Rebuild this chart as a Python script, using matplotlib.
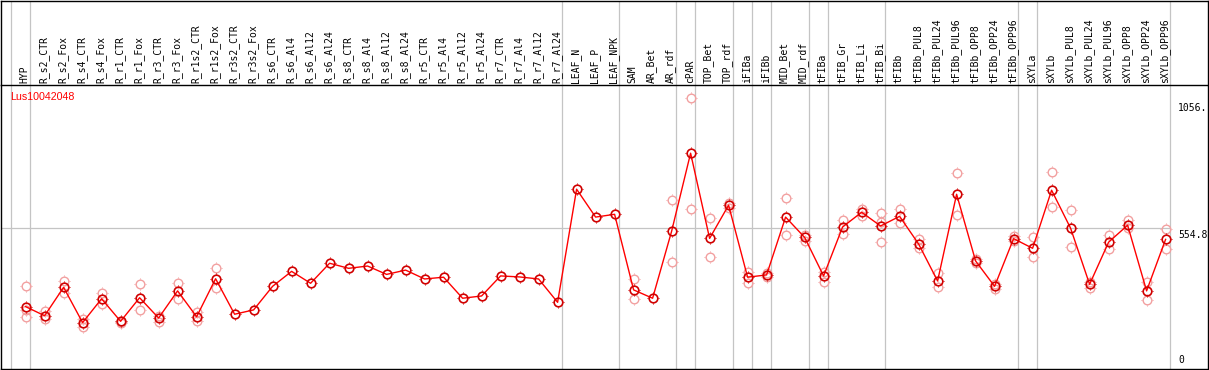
import matplotlib
matplotlib.use("Agg")
import matplotlib.pyplot as plt
from matplotlib.path import Path

LABELS = [
    "HYP", "R_s2_CTR", "R_s2_Fox", "R_s4_CTR", "R_s4_Fox", "R_r1_CTR", "R_r1_Fox",
    "R_r3_CTR", "R_r3_Fox", "R_r1s2_CTR", "R_r1s2_Fox", "R_r3s2_CTR", "R_r3s2_Fox",
    "R_s6_CTR", "R_s6_Al4", "R_s6_Al12", "R_s6_Al24", "R_s8_CTR", "R_s8_Al4",
    "R_s8_Al12", "R_s8_Al24", "R_r5_CTR", "R_r5_Al4", "R_r5_Al12", "R_r5_Al24",
    "R_r7_CTR", "R_r7_Al4", "R_r7_Al12", "R_r7_Al24", "LEAF_N", "LEAF_P", "LEAF_NPK",
    "SAM", "AR_Bet", "AR_rdf", "cPAR", "TOP_Bet", "TOP_rdf", "iFIBa", "iFIBb",
    "MID_Bet", "MID_rdf", "tFIBa", "tFIB_Gr", "tFIB_Li", "tFIB_Bi", "tFIBb",
    "tFIBb_PUL8", "tFIBb_PUL24", "tFIBb_PUL96", "tFIBb_OPP8", "tFIBb_OPP24",
    "tFIBb_OPP96", "sXYLa", "sXYLb", "sXYLb_PUL8", "sXYLb_PUL24", "sXYLb_PUL96",
    "sXYLb_OPP8", "sXYLb_OPP24", "sXYLb_OPP96",
]

MEANS = [
    246, 210, 322, 183, 277, 188, 281, 201, 308, 206, 356, 216, 233, 326, 385,
    338, 417, 397, 406, 373, 390, 355, 362, 279, 288, 367, 363, 355, 263,
    709, 599, 610, 312, 279, 543, 851, 515, 646, 362, 371, 599, 519, 367,
    560, 618, 564, 602, 493, 347, 689, 426, 326, 514, 476, 705, 555, 334,
    500, 567, 308, 511,
]

REPS = [
    [329, 233, 204], [230, 197], [347, 299], [197, 167], [301, 255], [185, 181],
    [334, 233], [210, 185], [338, 277], [226, 190], [397, 318],
    [], [], [], [], [], [], [], [], [], [], [], [], [], [], [], [], [], [],
    [], [], [],
    [354, 277], [], [666, 421], [1067, 630], [595, 440], [656, 635],
    [381, 340], [364, 377], [673, 527], [527, 506], [383, 343], [588, 531],
    [632, 603], [614, 500, 578], [630, 575], [511, 476], [377, 322], [772, 606],
    [433, 417], [335, 314], [524, 505], [521, 440], [776, 638], [627, 480],
    [343, 321], [528, 472], [586, 555], [344, 272], [551, 473],
]

SEP_AFTER = [-1, 0, 28, 31, 34, 35, 37, 38, 39, 41, 42, 45, 52, 53, 60]
REF_VALUE = 554.8
AXIS_LABELS = [(1056, "1056."), (REF_VALUE, "554.8")]
TITLE = "Lus10042048"

TICK_R = 1.25
TICKS = Path(
    [(0, 1), (0, TICK_R), (0, -1), (0, -TICK_R), (1, 0), (TICK_R, 0), (-1, 0), (-TICK_R, 0)],
    [Path.MOVETO, Path.LINETO] * 4,
)


def add_marks(ax, x, y, color, ring_w, zorder, size=6.2):
    # open circle plus four short outer ticks
    ax.plot(x, y, linestyle="none", marker="o", markersize=size,
            markerfacecolor="none", markeredgecolor=color,
            markeredgewidth=ring_w, zorder=zorder)
    ax.plot(x, y, linestyle="none", marker=TICKS, markersize=size * TICK_R + 0.8,
            markerfacecolor="none", markeredgecolor=color,
            markeredgewidth=0.7, zorder=zorder)


def main():
    W, H = 1209, 370
    fig = plt.figure(figsize=(W / 100, H / 100), dpi=100)

    # pixel geometry
    x0_px, step_px = 25.6, 19.0
    left_px, right_px = 1, 1208
    head_top, head_bot, plot_bot = 0.5, 85, 369
    xlim = ((left_px - x0_px) / step_px, (right_px - x0_px) / step_px)
    per_px = REF_VALUE / (plot_bot - 228.3)
    ytop = (plot_bot - head_bot) * per_px

    ax = fig.add_axes([left_px / W, (H - plot_bot) / H,
                       (right_px - left_px) / W, (plot_bot - head_bot) / H])
    axh = fig.add_axes([left_px / W, (H - head_bot) / H,
                        (right_px - left_px) / W, (head_bot - head_top) / H])

    for a in (ax, axh):
        a.set_xlim(*xlim)
        a.set_xticks([])
        a.set_yticks([])
        for s in a.spines.values():
            s.set_color("black")
            s.set_linewidth(1.0)
        for i in SEP_AFTER:
            a.axvline(i + 0.25, color="#c4c4c4", lw=0.9, zorder=1)
    ax.set_ylim(0, ytop)
    ax.spines["top"].set_visible(False)
    axh.set_ylim(0, 1)

    ax.hlines(REF_VALUE, xlim[0], SEP_AFTER[-1] + 0.25, color="#c4c4c4", lw=0.9, zorder=1)

    xs = list(range(len(LABELS)))
    rx = [i for i, reps in enumerate(REPS) for _ in reps]
    ry = [v for reps in REPS for v in reps]
    add_marks(ax, rx, ry, "#f2a0a0", 1.0, 2)
    ax.plot(xs, MEANS, color="#ff0000", lw=1.0, zorder=3)
    add_marks(ax, xs, MEANS, "#d00000", 1.2, 4)

    for i, lab in enumerate(LABELS):
        axh.text(i - 0.05, 2 / 85, lab, rotation=90, ha="center", va="bottom",
                 family="DejaVu Sans Mono", fontsize=7, color="black")

    lab_x = SEP_AFTER[-1] + 0.25 + 8 / step_px
    for val, txt in AXIS_LABELS:
        ax.annotate(txt, (lab_x, val), xytext=(0, -1.5), textcoords="offset pixels",
                    ha="left", va="top", family="DejaVu Sans Mono", fontsize=7,
                    annotation_clip=False)
    ax.annotate("0", (lab_x, 0), xytext=(0, 4), textcoords="offset pixels",
                ha="left", va="bottom", family="DejaVu Sans Mono", fontsize=7,
                annotation_clip=False)

    ax.text((10 - left_px) / (right_px - left_px), (plot_bot - 97) / (plot_bot - head_bot),
            TITLE, transform=ax.transAxes, ha="left", va="center",
            family="Liberation Sans", fontsize=7.7, color="#ff0000")

    fig.savefig("out.png", dpi=100)
    plt.close(fig)


if __name__ == "__main__":
    main()
